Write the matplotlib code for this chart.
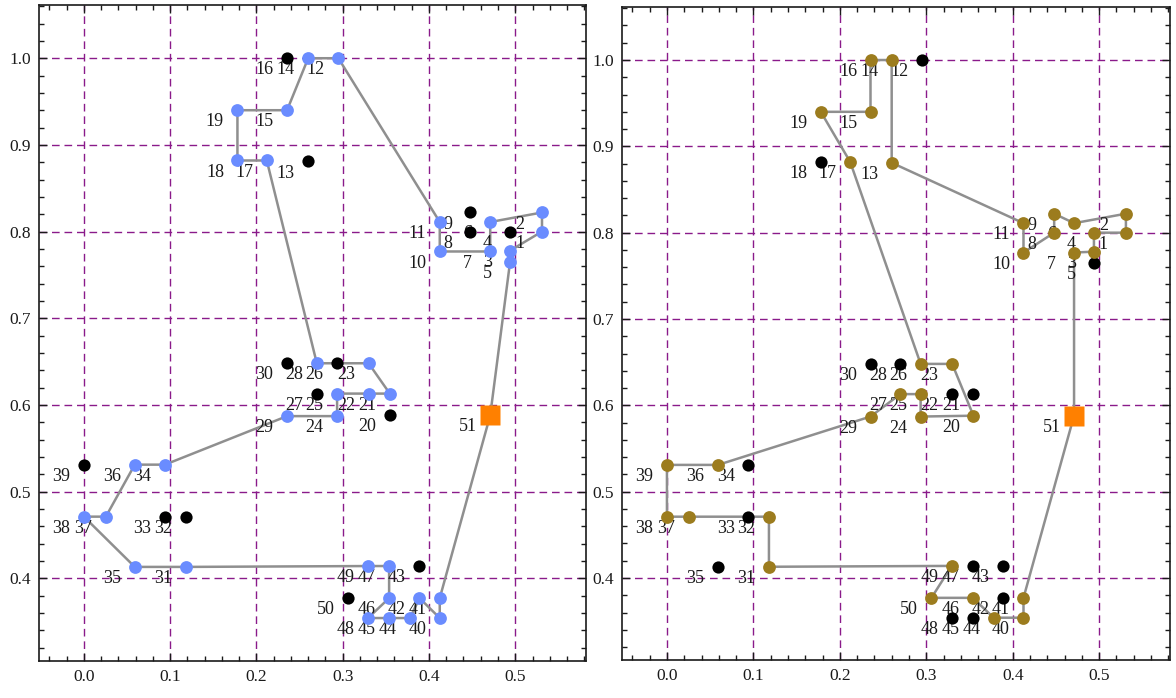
import numpy as np
import matplotlib
matplotlib.use("Agg")
import matplotlib.pyplot as plt
from matplotlib.ticker import MultipleLocator, FormatStrFormatter

# Node coordinates, node number = index + 1 (node 51 is the depot)
xs = [0.531, 0.531, 0.494, 0.494, 0.494, 0.471, 0.471, 0.448, 0.448, 0.4125,
      0.4125, 0.295, 0.260, 0.260, 0.2355, 0.2355, 0.212, 0.178, 0.178, 0.3546,
      0.3546, 0.330, 0.330, 0.2935, 0.2935, 0.2935, 0.270, 0.270, 0.2355, 0.2355,
      0.118, 0.118, 0.094, 0.094, 0.059, 0.059, 0.0255, 0.0, 0.0, 0.4125,
      0.4125, 0.389, 0.389, 0.378, 0.3538, 0.3538, 0.3538, 0.3294, 0.3294, 0.306,
      0.471]
ys = [0.800, 0.822, 0.778, 0.800, 0.765, 0.811, 0.777, 0.800, 0.822, 0.777,
      0.811, 1.000, 0.881, 1.000, 0.940, 1.000, 0.882, 0.882, 0.940, 0.588,
      0.613, 0.613, 0.648, 0.587, 0.613, 0.648, 0.613, 0.648, 0.587, 0.648,
      0.413, 0.471, 0.471, 0.531, 0.413, 0.531, 0.471, 0.471, 0.531, 0.354,
      0.377, 0.377, 0.414, 0.354, 0.354, 0.377, 0.414, 0.354, 0.414, 0.377,
      0.588]
labels = [str(i + 1) for i in range(len(xs))]

# Tours (closed, start and end at depot 51)
route_left = [51, 5, 3, 1, 2, 6, 7, 10, 11, 12, 14, 15, 19, 18, 17, 28, 23, 21, 22,
              25, 24, 29, 34, 36, 37, 38, 35, 31, 49, 47, 46, 48, 45, 44, 42, 40, 41, 51]
route_right = [51, 7, 3, 4, 1, 2, 6, 9, 8, 10, 11, 13, 14, 16, 15, 19, 17, 26, 23, 20,
               24, 25, 27, 29, 36, 39, 38, 37, 32, 31, 49, 50, 46, 44, 40, 41, 51]
depot = 51

plt.rcParams['font.family'] = ['Liberation Serif', 'DejaVu Serif']
plt.rcParams['font.size'] = 12

fig = plt.figure(figsize=(11.76, 6.98), dpi=100)
W, H = 1176.0, 698.0
ax1 = fig.add_axes([39 / W, 1 - 660.5 / H, (586 - 39) / W, (660.5 - 4.5) / H])
ax2 = fig.add_axes([622 / W, 1 - 660 / H, (1170 - 622) / W, (660 - 6.5) / H])

xs = np.array(xs)
ys = np.array(ys)


def draw(ax, route, color):
    for g in np.arange(0.0, 0.51, 0.1):
        ax.axvline(g, color='#8a1a8a', lw=1.0, ls=(0, (5.5, 3.5)), zorder=1)
    for g in np.arange(0.4, 1.01, 0.1):
        ax.axhline(g, color='#8a1a8a', lw=1.0, ls=(0, (5.5, 3.5)), zorder=1)

    idx = [n - 1 for n in route]
    ax.plot(xs[idx], ys[idx], color='#8f8f8f', lw=1.8, zorder=2)

    for i, lab in enumerate(labels):
        ax.annotate(lab, (xs[i], ys[i]), xytext=(-16.2, -8.4), textcoords='offset points',
                    ha='center', va='center', fontsize=13, color='#1a1a1a', zorder=3)

    visited = set(route) - {depot}
    unvisited = [n - 1 for n in range(1, len(xs) + 1) if n not in visited and n != depot]
    vis = [n - 1 for n in visited]
    ax.plot(xs[unvisited], ys[unvisited], 'o', color='black', ms=8.8, mec='none', zorder=4)
    ax.plot(xs[vis], ys[vis], 'o', color=color, ms=9.2, mec='none', zorder=4)
    ax.plot(xs[depot - 1], ys[depot - 1], 's', color='#ff8000', ms=14, mec='none', zorder=5)

    ax.set_xlim(-0.052, 0.582)
    ax.set_ylim(0.305, 1.062)
    ax.xaxis.set_major_locator(MultipleLocator(0.1))
    ax.xaxis.set_minor_locator(MultipleLocator(0.02))
    ax.yaxis.set_major_locator(MultipleLocator(0.1))
    ax.yaxis.set_minor_locator(MultipleLocator(0.02))
    ax.xaxis.set_major_formatter(FormatStrFormatter('%.1f'))
    ax.yaxis.set_major_formatter(FormatStrFormatter('%.1f'))
    ax.tick_params(which='both', direction='in', top=True, right=True, width=1.0,
                   labelsize=12.5, colors='#1a1a1a')
    ax.tick_params(which='major', length=6, pad=6)
    ax.tick_params(which='minor', length=3.5)
    for s in ax.spines.values():
        s.set_linewidth(1.2)
        s.set_color('#1a1a1a')


draw(ax1, route_left, '#6a8cff')
draw(ax2, route_right, '#9c7c1e')

fig.savefig('out.png', dpi=100)
